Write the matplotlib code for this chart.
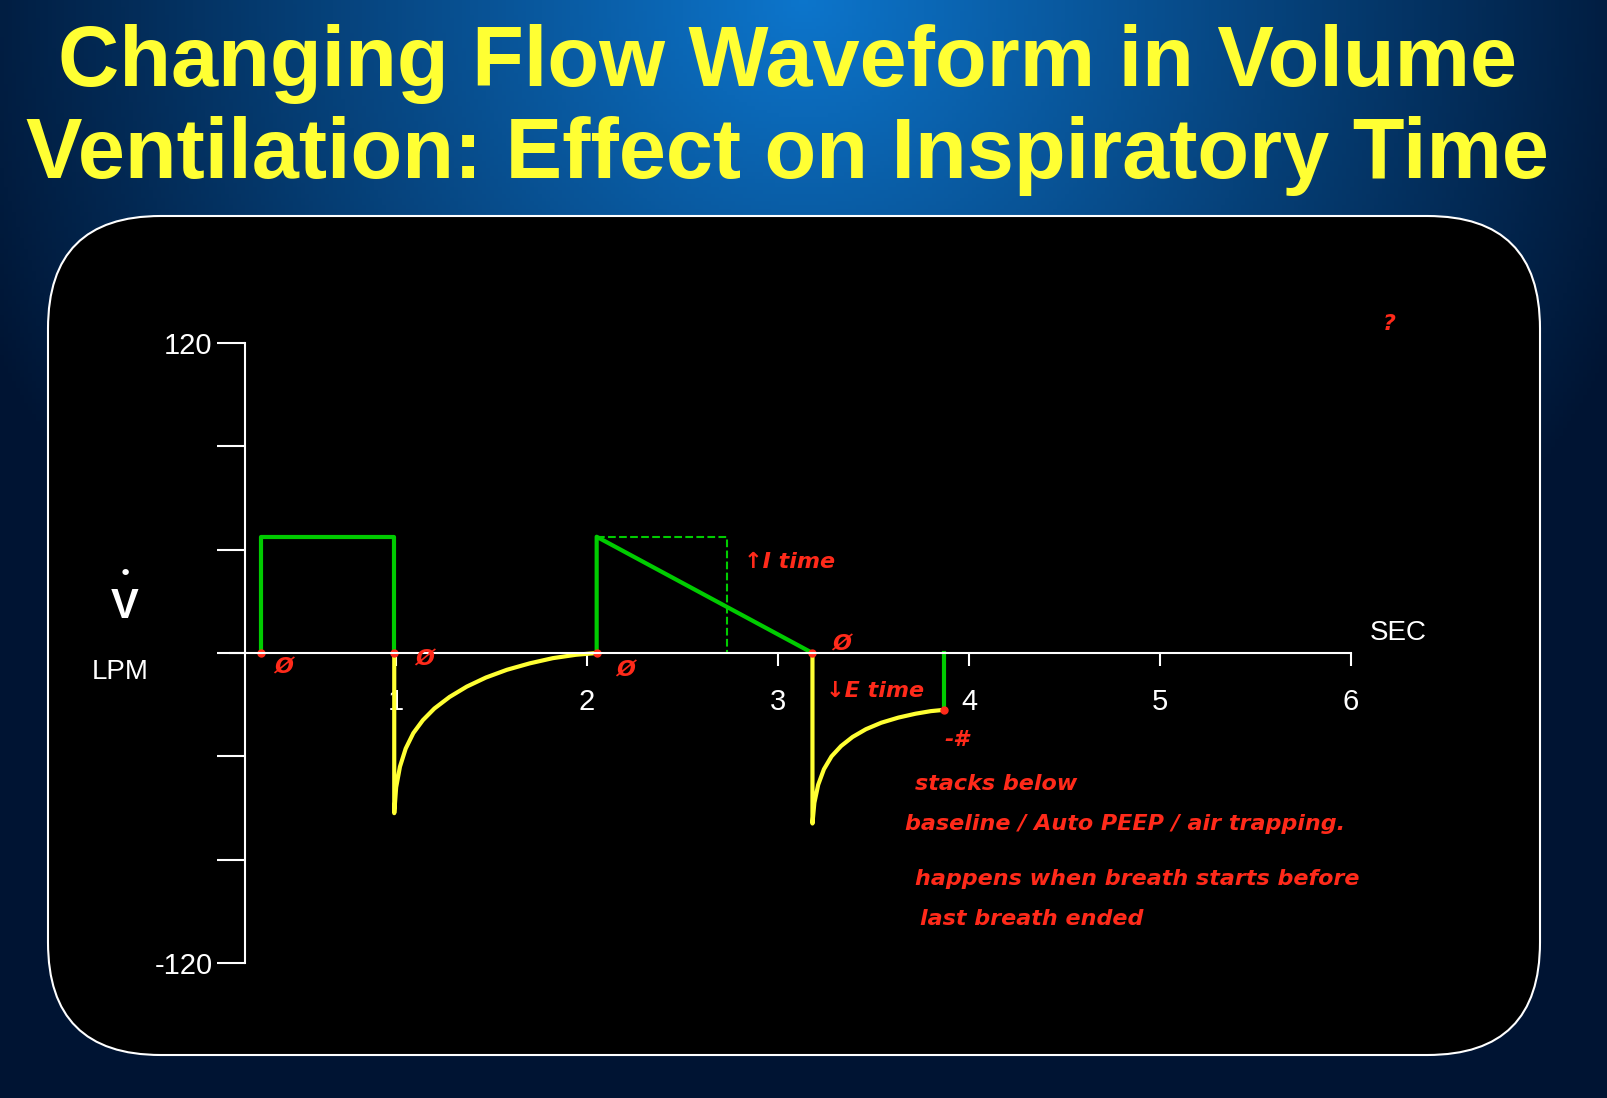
import numpy as np
import matplotlib.pyplot as plt
from matplotlib.patches import FancyBboxPatch

# ---- data ----
title = "Changing Flow Waveform in Volume\nVentilation: Effect on Inspiratory Time"
x_ticks = [1, 2, 3, 4, 5, 6]
y_ticks = [-120, -80, -40, 0, 40, 80, 120]
y_labels = ["-120", "", "", "", "", "", "120"]

sq_t = [0.29, 0.29, 0.99, 0.99]
sq_v = [0, 45, 45, 0]
exp1_t = [0.99, 0.99, 1.0, 1.02, 1.05, 1.09, 1.14, 1.2, 1.28, 1.37, 1.47, 1.58, 1.7, 1.82, 1.94, 2.05]
exp1_v = [0, -62, -52, -44, -37, -31, -26, -21.5, -17, -13, -9.5, -6.5, -4, -2, -0.7, 0]
ramp_t = [2.05, 2.05, 3.18]
ramp_v = [0, 45, 0]
dash_t = [2.05, 2.73, 2.73]
dash_v = [45, 45, 0]
exp2_t = [3.18, 3.18, 3.19, 3.21, 3.24, 3.28, 3.33, 3.39, 3.46, 3.54, 3.63, 3.72, 3.8, 3.87]
exp2_v = [0, -66, -58, -51, -45, -40, -36, -32.5, -29.5, -27, -25, -23.5, -22.5, -22]
trig_t = [3.87, 3.87]
trig_v = [-22, 0]

W, H = 1607, 1098
fig = plt.figure(figsize=(W/100, H/100), dpi=100)

bg = fig.add_axes([0, 0, 1, 1])
xx, yy = np.meshgrid(np.linspace(-1, 1, 400), np.linspace(0, 1, 300))
r = np.sqrt((xx*0.9)**2 + (yy*1.3)**2)
g = np.clip(1 - r, 0, 1)
img = np.dstack([0.0 + 0.05*g, 0.08 + 0.38*g, 0.2 + 0.6*g])
bg.imshow(img, aspect='auto', extent=[0, 1, 0, 1], origin='upper')
bg.set_xlim(0, 1); bg.set_ylim(0, 1); bg.axis('off')

box = FancyBboxPatch((48/W, 1-1055/H), (1540-48)/W, (1055-216)/H,
                     boxstyle="round,pad=0,rounding_size=0.07", transform=bg.transAxes,
                     facecolor='black', edgecolor='white', lw=1.5, mutation_aspect=W/H)
bg.add_patch(box)

fig.text(0.49, 0.9, title, ha='center', va='center', color='#ffff33',
         fontsize=61, fontweight='bold', family='Liberation Sans', linespacing=1.2)

ax = fig.add_axes([230/W, 1-963/H, (1351-230)/W, 620/H])
ax.set_facecolor('none')
ax.set_xlim(0.13, 6.0)
ax.set_ylim(-120, 120)
for s in ['top', 'right']:
    ax.spines[s].set_visible(False)
ax.spines['left'].set_position(('data', 0.21))
ax.spines['bottom'].set_position(('data', 0))
for s in ['left', 'bottom']:
    ax.spines[s].set_color('white'); ax.spines[s].set_linewidth(1.5)
ax.set_yticks(y_ticks)
ax.set_yticklabels(y_labels)
ax.set_xticks(x_ticks)
ax.tick_params(axis='both', colors='white', labelsize=21, width=1.5)
ax.tick_params(axis='y', length=20)
ax.tick_params(axis='x', direction='out', length=9, pad=16)
for lab in ax.get_yticklabels() + ax.get_xticklabels():
    lab.set_family('Liberation Sans')

ax.plot(sq_t, sq_v, color='#00cc00', lw=3)
ax.plot(ramp_t, ramp_v, color='#00cc00', lw=3)
ax.plot(dash_t, dash_v, color='#00cc00', lw=1.5, ls='--')
ax.plot(trig_t, trig_v, color='#00cc00', lw=3)
ax.plot(exp1_t, exp1_v, color='#ffff33', lw=3)
ax.plot(exp2_t, exp2_v, color='#ffff33', lw=3)

fig.text(1398/W, 1-633/H, "SEC", color='white', fontsize=20, ha='center', va='center',
         family='Liberation Sans')
fig.text(125/W, 1-607/H, "V", color='white', fontsize=30, fontweight='bold', ha='center', va='center',
         family='Liberation Sans')
fig.text(125/W, 1-574/H, "•", color='white', fontsize=16, ha='center', va='center')
fig.text(120/W, 1-672/H, "LPM", color='white', fontsize=20, ha='center', va='center',
         family='Liberation Sans')

red = '#ff2a1a'
for t in [0.29, 0.99, 2.05, 3.18, 3.87]:
    yv = -22 if t == 3.87 else 0
    ax.plot(t, yv, 'o', color=red, ms=5)
hw = dict(color=red, fontsize=16, style='italic', fontweight='bold', family='DejaVu Sans')
for t, yv in [(0.36, -8), (1.1, -5), (2.15, -9), (3.28, 1)]:
    ax.text(t, yv, "Ø", **hw)
ax.text(2.82, 33, "↑I time", **hw)
ax.text(3.25, -17, "↓E time", **hw)
ax.text(3.87, -36, "-#", **hw)
fig.text(915/W, 1-790/H, "stacks below", **hw)
fig.text(905/W, 1-830/H, "baseline / Auto PEEP / air trapping.", **hw)
fig.text(915/W, 1-885/H, "happens when breath starts before", **hw)
fig.text(920/W, 1-925/H, "last breath ended", **hw)
fig.text(1383/W, 1-330/H, "?", **hw)

fig.savefig('out.png', dpi=100)
